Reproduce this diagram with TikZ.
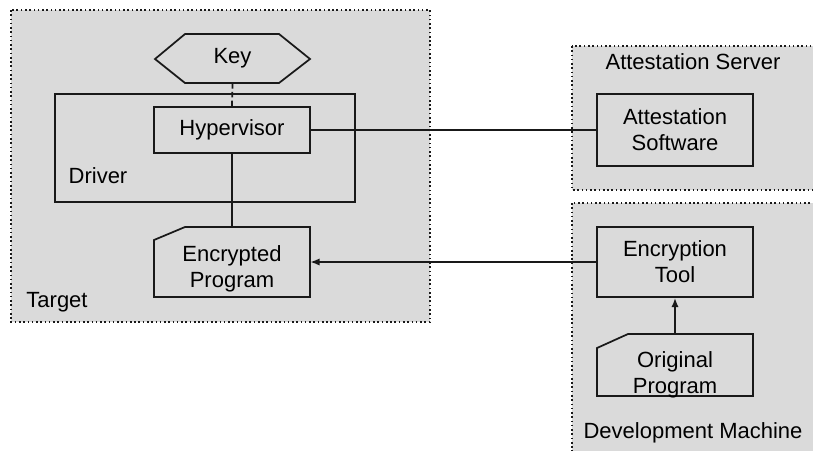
\documentclass[tikz,border=0pt]{standalone}
\usepackage{fontspec}
\setmainfont{Liberation Sans}
\usetikzlibrary{arrows.meta}
\definecolor{zonefill}{RGB}{218,218,218}
\definecolor{ink}{RGB}{25,25,25}
\def\u{0.75pt}
\tikzset{
  zone/.style={fill=zonefill, draw=ink, line width=1.2pt, dotted},
  box/.style={draw=ink, line width=1.3pt, rectangle, inner sep=0pt, align=center,
    font=\fontsize{16.5}{19.5}\selectfont},
  plain/.style={inner sep=0pt, align=center, font=\fontsize{16.5}{19.5}\selectfont},
  outline/.style={draw=ink, line width=1.3pt, line join=miter},
  link/.style={draw=ink, line width=1.3pt},
  flow/.style={draw=ink, line width=1.3pt, -{Latex[length=7pt,width=5.5pt]}},
}
\begin{document}
\begin{tikzpicture}[x=0.75pt, y=-0.75pt]
\useasboundingbox (0,0) rectangle (813,450);
\fill[white] (0,0) rectangle (813,450);
\clip (0,0) rectangle (813,450);

% grouping areas
\draw[zone] (11,10) rectangle (430,322);
\draw[zone] (572,46) rectangle (840,190);
\draw[zone] (572,203) rectangle (840,470);
\node[plain] (lbltarget) at (57,302) {Target};
\node[plain] (lblserver) at (693,62) {Attestation Server};
\node[plain] (lbldev) at (693,433) {Development Machine};

% key (hexagon)
\draw[outline] (155,59) -- (185,34) -- (279,34) -- (310,59) -- (279,83) -- (185,83) -- cycle;
\node[plain, minimum width=155*\u, minimum height=49*\u] (key) at (232.5,58.5) {Key};

% driver with hypervisor inside
\node[box, minimum width=300*\u, minimum height=108*\u] (driver) at (205,148) {};
\node[plain] (lbldriver) at (98,176) {Driver};
\node[box, fill=zonefill, minimum width=156*\u, minimum height=46*\u] (hyp) at (232,130) {Hypervisor};

% encrypted program (card)
\draw[outline] (154,240) -- (185,227) -- (310,227) -- (310,297) -- (154,297) -- cycle;
\node[plain, minimum width=156*\u, minimum height=70*\u] (enc) at (232,262) {};
\node[plain] at (232,269) {Encrypted\\Program};

% attestation software
\node[box, minimum width=156*\u, minimum height=72*\u] (att) at (675,130) {Attestation\\Software};

% encryption tool
\node[box, minimum width=156*\u, minimum height=70*\u] (tool) at (675,262) {Encryption\\Tool};

% original program (card)
\draw[outline] (597,348) -- (628,334) -- (753,334) -- (753,396) -- (597,396) -- cycle;
\node[plain, minimum width=156*\u, minimum height=62*\u] (orig) at (675,365) {};
\node[plain] at (675,375) {Original\\Program};

% connections
\draw[link, dash pattern=on 4pt off 2.5pt] (key.south) -- (hyp.north);
\draw[link] (hyp.south) -- (enc.north);
\draw[link] (hyp.east) -- (att.west);
\draw[flow] (tool.west) -- (enc.east);
\draw[flow] (orig.north) -- (tool.south);
\end{tikzpicture}
\end{document}
